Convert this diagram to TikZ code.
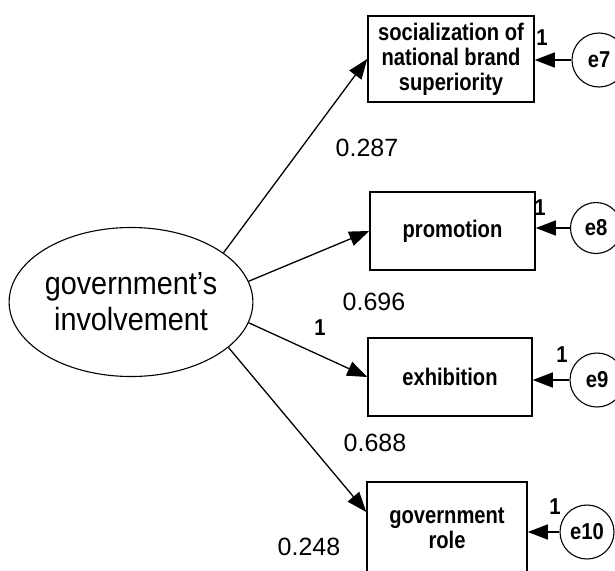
\documentclass[tikz,border=0pt]{standalone}
\usepackage{fontspec}
\setmainfont{Liberation Sans}
\newfontfamily\boxfont[FakeStretch=0.84]{Liberation Sans}
\newfontfamily\latfont[FakeStretch=0.9]{Liberation Sans}
\newfontfamily\errfont[FakeStretch=0.88]{Liberation Sans}
\usetikzlibrary{arrows.meta,shapes.geometric}
\begin{document}
\begin{tikzpicture}[x=1pt,y=-1pt,
  lat/.style={ellipse, draw, line width=1.1pt, minimum width=236pt, minimum height=149pt, inner sep=0pt, align=center, font=\latfont\fontsize{32}{36}\selectfont},
  obs/.style={rectangle, draw, line width=1.5pt, inner sep=0pt, align=center, font=\boxfont\bfseries\fontsize{24}{25}\selectfont},
  err/.style={circle, draw, line width=1.1pt, minimum size=54pt, inner sep=0pt, font=\errfont\bfseries\fontsize{23}{24}\selectfont},
  coef/.style={font=\fontsize{25}{30}\selectfont, inner sep=0pt},
  one/.style={font=\errfont\bfseries\fontsize{23}{26}\selectfont, inner sep=0pt},
  regpath/.style={line width=1.3pt, -{Triangle[length=20pt,width=15pt]}},
]
\useasboundingbox (0,0) rectangle (615,570);
\clip (0,0) rectangle (615,570);
\fill[white] (0,0) rectangle (615,570);

\node[lat] (gi) at (131,302) {government’s\\involvement};

\node[obs, minimum width=166pt, minimum height=86pt] (b1) at (451,59) {socialization of\\national brand\\superiority};
\node[obs, minimum width=165pt, minimum height=78pt] (b2) at (452.5,231) {promotion};
\node[obs, minimum width=164pt, minimum height=78pt] (b3) at (450,377) {exhibition};
\node[obs, minimum width=160pt, minimum height=92pt] (b4) at (447,528) {government\\role};

\node[err] (e7) at (599,60) {e7};
\node[err, minimum size=51pt] (e8) at (596,228) {e8};
\node[err] (e9) at (597,380) {e9};
\node[err] (e10) at (587,532) {e10};

\draw[regpath] (gi.28) -- (b1.west);
\draw[regpath] (gi.10) -- (b2.west);
\draw[regpath] (gi.-10) -- (b3.west);
\draw[regpath] (gi.-25) -- ([yshift=16pt]b4.west);

\draw[regpath] (e7.west) -- (e7.west -| b1.east);
\draw[regpath] (e8.west) -- (e8.west -| b2.east);
\draw[regpath] (e9.west) -- (e9.west -| b3.east);
\draw[regpath] (e10.west) -- (e10.west -| b4.east);

\node[coef] (c1) at (367,148) {0.287};
\node[coef] (c2) at (374,302) {0.696};
\node[coef] (c3) at (375,443) {0.688};
\node[coef] (c4) at (309,547) {0.248};

\node[one] (o0) at (320,328) {1};
\node[one] (o1) at (542,38) {1};
\node[one] (o2) at (540,208) {1};
\node[one] (o3) at (562,355) {1};
\node[one] (o4) at (555,507) {1};
\end{tikzpicture}
\end{document}
